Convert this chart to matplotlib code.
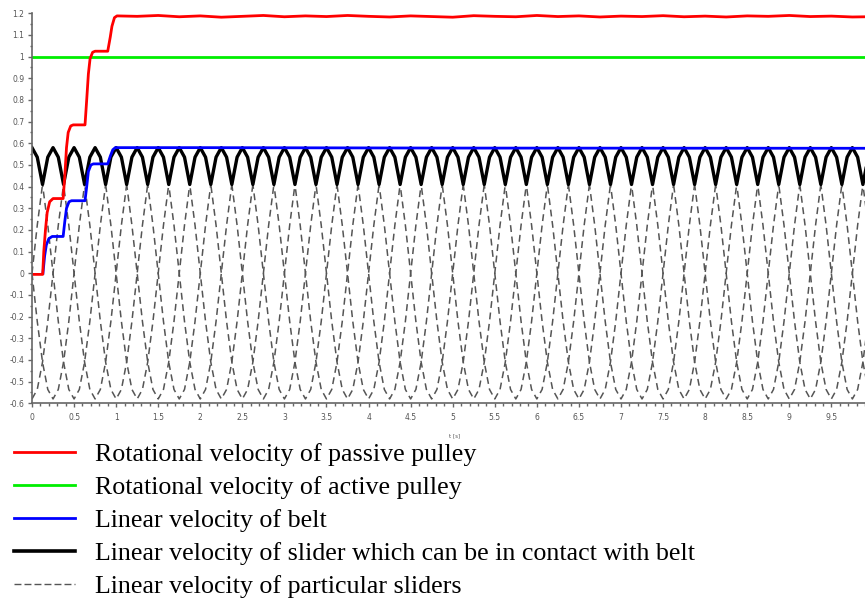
import numpy as np
import matplotlib.pyplot as plt
from matplotlib.ticker import MultipleLocator

slider_period = 1.0
slider_cycle = [0.58, 0.536, 0.41, 0.222, 0.0, -0.222, -0.41, -0.536,
                -0.58, -0.536, -0.41, -0.222, 0.0, 0.222, 0.41, 0.536]
n_sliders = 4
n_periods = 10

# passive pulley rotational velocity
red_t = [0.0, 0.127, 0.14, 0.16, 0.18, 0.21, 0.25, 0.37, 0.39, 0.41, 0.43, 0.46, 0.49,
         0.63, 0.65, 0.67, 0.69, 0.72, 0.75, 0.90, 0.93, 0.95, 0.98, 1.01,
         1.25, 1.5, 1.75, 2.0, 2.25, 2.5, 2.75, 3.0, 3.25, 3.5, 3.75, 4.0, 4.25,
         4.5, 4.75, 5.0, 5.25, 5.5, 5.75, 6.0, 6.25, 6.5, 6.75, 7.0, 7.25, 7.5,
         7.75, 8.0, 8.25, 8.5, 8.75, 9.0, 9.25, 9.5, 9.75, 9.92]
red_v = [-0.005, -0.005, 0.10, 0.20, 0.28, 0.33, 0.345, 0.345, 0.45, 0.58, 0.65, 0.68, 0.685,
         0.685, 0.80, 0.92, 0.99, 1.02, 1.025, 1.025, 1.09, 1.14, 1.18, 1.188,
         1.186, 1.190, 1.184, 1.188, 1.182, 1.186, 1.190, 1.184, 1.188, 1.185, 1.190, 1.186, 1.183,
         1.188, 1.185, 1.182, 1.189, 1.186, 1.184, 1.190, 1.185, 1.188, 1.183, 1.187, 1.185, 1.189,
         1.184, 1.187, 1.183, 1.188, 1.186, 1.190, 1.185, 1.187, 1.183, 1.184]

# active pulley rotational velocity
green_t = [0.0, 9.92]
green_v = [1.0, 1.0]

# belt linear velocity
blue_t = [0.13, 0.15, 0.17, 0.20, 0.24, 0.37, 0.39, 0.41, 0.44, 0.47, 0.63, 0.65, 0.67,
          0.70, 0.73, 0.90, 0.93, 0.96, 0.99, 2.0, 5.0, 9.92]
blue_v = [0.0, 0.08, 0.13, 0.16, 0.17, 0.17, 0.24, 0.30, 0.33, 0.335, 0.335, 0.40, 0.47,
          0.50, 0.505, 0.505, 0.54, 0.57, 0.58, 0.58, 0.578, 0.577]

labels = ["Rotational velocity of passive pulley",
          "Rotational velocity of active pulley",
          "Linear velocity of belt",
          "Linear velocity of slider which can be in contact with belt",
          "Linear velocity of particular sliders"]

# build slider curves from the sampled period
steps = len(slider_cycle)
cycle = np.array(slider_cycle)
t_s = np.arange(steps * n_periods + 1) * slider_period / steps
sliders = []
for k in range(n_sliders):
    c = np.roll(cycle, -k * steps // n_sliders)
    v = np.concatenate([np.tile(c, n_periods), c[:1]])
    sliders.append(v)
sliders = np.array(sliders)
contact = sliders.max(axis=0)

fig = plt.figure(figsize=(8.65, 6), dpi=100)
ax = fig.add_axes([32 / 865, 196.7 / 600, 1 - 32 / 865, 390 / 600])

for v in sliders:
    ax.plot(t_s, v, color='#555555', lw=1.1, dashes=(4.5, 3))
ax.plot(t_s, contact, color='black', lw=2.4)
ax.plot(green_t, green_v, color='#00ee00', lw=2)
ax.plot(blue_t, blue_v, color='#0000ff', lw=2)
ax.plot(red_t, red_v, color='#ff0000', lw=2)

ax.set_xlim(0, 9.9)
ax.set_ylim(-0.6, 1.2)
ax.xaxis.set_major_locator(MultipleLocator(0.5))
ax.xaxis.set_minor_locator(MultipleLocator(0.1))
ax.yaxis.set_major_locator(MultipleLocator(0.1))
ax.yaxis.set_minor_locator(MultipleLocator(0.05))
ax.xaxis.set_major_formatter(plt.FuncFormatter(lambda x, p: ('%g' % round(x, 2))))
ax.yaxis.set_major_formatter(plt.FuncFormatter(lambda y, p: ('%g' % round(y, 2))))
for s in ['top', 'right']:
    ax.spines[s].set_visible(False)
for s in ['left', 'bottom']:
    ax.spines[s].set_color('#666666')
    ax.spines[s].set_linewidth(1.2)
ax.tick_params(which='major', direction='out', length=3, width=1, color='#666666',
               labelsize=5.5, labelcolor='#555555')
ax.tick_params(axis='x', which='major', pad=4)
ax.tick_params(axis='y', which='major', pad=2.5)
ax.tick_params(which='minor', direction='out', length=1.8, width=1, color='#666666')
ax.set_xlabel('t [s]', fontsize=4, color='#555555')
ax.xaxis.set_label_coords((455 - 32) / 833, -(433 - 403) / 390)

handles = [plt.Line2D([], [], color='#ff0000', lw=2),
           plt.Line2D([], [], color='#00ee00', lw=2),
           plt.Line2D([], [], color='#0000ff', lw=2),
           plt.Line2D([], [], color='black', lw=2.6),
           plt.Line2D([], [], color='#555555', lw=1, dashes=(5, 2.2))]
fig.legend(handles, labels, loc='upper left', bbox_to_anchor=(14 / 865, 1 - 443 / 600),
           frameon=False, prop={'family': 'Liberation Serif', 'size': 18.7},
           handlelength=2.35, handletextpad=0.77, labelspacing=0.38,
           borderpad=0, borderaxespad=0)

fig.savefig('out.png', dpi=100)
